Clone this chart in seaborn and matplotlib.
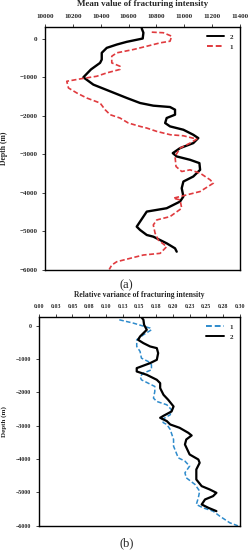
import numpy as np
import pandas as pd
import matplotlib
matplotlib.use("Agg")
import matplotlib.pyplot as plt
import seaborn as sns

# ==========================
# DATA
# ==========================

# panel (a): mean value of fracturing intensity
a2_depth = [260, 150, 0, -86, -156, -242, -371, -545, -631, -800, -1005, -1195,
            -1368, -1541, -1671, -1740, -1775, -1844, -1974, -2060, -2190, -2277,
            -2364, -2494, -2580, -2710, -2840, -2970, -3056, -3143, -3229, -3403,
            -3576, -3706, -3879, -4095, -4225, -4398, -4485, -4615, -4745, -4875,
            -4961, -5091, -5135, -5307, -5437, -5524]
a2_value = [10694, 10706, 10701, 10586, 10515, 10443, 10407, 10407, 10395, 10330, 10275, 10347,
            10467, 10587, 10682, 10777, 10897, 10933, 10933, 10873, 10862, 10897,
            10993, 11064, 11100, 11064, 10969, 10917, 10945, 11041, 11108, 11113,
            11064, 10993, 10981, 10993, 10969, 10873, 10730, 10706, 10682, 10658,
            10682, 10730, 10777, 10873, 10933, 10945]

a1_depth = [165, 150, 60, -70, -112, -200, -285, -371, -459, -631, -719, -800,
            -891, -978, -1047, -1108, -1281, -1411, -1541, -1671, -1844, -1974,
            -2060, -2190, -2277, -2320, -2407, -2494, -2520, -2606, -2710, -2840,
            -3056, -3316, -3446, -3403, -3489, -3662, -3749, -3965, -4052, -4138,
            -4182, -4398, -4615, -4701, -4831, -5047, -5221, -5394, -5567, -5610,
            -5697, -5784, -5870, -5983]
a1_value = [10766, 10849, 10909, 10897, 10826, 10730, 10634, 10515, 10479, 10479, 10538, 10538,
            10443, 10371, 10251, 10156, 10168, 10228, 10299, 10395, 10431, 10467,
            10538, 10598, 10682, 10730, 10802, 10900, 10993, 11089, 11041, 10969,
            10933, 10940, 10981, 11041, 11113, 11185, 11208, 11113, 11017, 10921,
            10969, 10981, 10897, 10802, 10777, 10790, 10813, 10873, 10826, 10706,
            10610, 10515, 10479, 10461]

a_xticks = [10000, 10200, 10400, 10600, 10800, 11000, 11200, 11400]

# panel (b): relative variance of fracturing intensity
b1_depth = [180, 80, -70, -120, -270, -420, -620, -770, -970, -1070, -1170, -1320,
            -1420, -1520, -1620, -1720, -1820, -1970, -2170, -2270, -2370, -2520,
            -2670, -2820, -2910, -2960, -3110, -3410, -3610, -3960, -4060, -4210,
            -4410, -4560, -4760, -4960, -5160, -5360, -5460, -5560, -5710, -5910, -6000]
b1_value = [0.120, 0.141, 0.166, 0.168, 0.156, 0.146, 0.146, 0.151, 0.153, 0.163, 0.168, 0.168,
            0.156, 0.151, 0.153, 0.163, 0.173, 0.173, 0.171, 0.176, 0.191, 0.198,
            0.196, 0.183, 0.186, 0.191, 0.196, 0.201, 0.201, 0.208, 0.218, 0.225,
            0.218, 0.220, 0.233, 0.240, 0.238, 0.235, 0.245, 0.260, 0.270, 0.285, 0.297]

b2_depth = [260, 180, 30, -120, -320, -420, -520, -620, -670, -820, -1020, -1120,
            -1270, -1370, -1470, -1620, -1720, -1870, -2070, -2220, -2420, -2570,
            -2700, -2760, -2860, -2960, -3060, -3210, -3290, -3410, -3560, -3860,
            -4010, -4110, -4310, -4610, -4810, -4910, -5010, -5110, -5210, -5360,
            -5460, -5560]
b2_value = [0.153, 0.156, 0.157, 0.161, 0.151, 0.148, 0.156, 0.166, 0.176, 0.178, 0.176, 0.166,
            0.146, 0.146, 0.161, 0.176, 0.181, 0.181, 0.186, 0.193, 0.201, 0.198,
            0.186, 0.181, 0.191, 0.196, 0.210, 0.223, 0.228, 0.220, 0.218, 0.225,
            0.238, 0.240, 0.235, 0.235, 0.243, 0.255, 0.265, 0.260, 0.248, 0.243,
            0.253, 0.265]

b_xticks = [0.00, 0.025, 0.05, 0.075, 0.10, 0.125, 0.15, 0.175, 0.20, 0.225, 0.25, 0.275, 0.30]
b_xticklabels = ["0.00", "0.03", "0.05", "0.08", "0.10", "0.13", "0.15",
                 "0.18", "0.20", "0.23", "0.25", "0.28", "0.30"]

depth_ticks = [0, -1000, -2000, -3000, -4000, -5000, -6000]

# ==========================
# STYLE
# ==========================

sns.set_style("ticks")
plt.rcParams["font.family"] = ["Liberation Serif", "DejaVu Serif"]
plt.rcParams["font.weight"] = "bold"

fig = plt.figure(figsize=(2.53, 5.5), dpi=100)
ax_a = fig.add_axes([0.178, 0.509, 0.771, 0.442])
ax_b = fig.add_axes([0.154, 0.044, 0.794, 0.380])


def make_df(pairs):
    frames = []
    for name, val, dep in pairs:
        frames.append(pd.DataFrame({"value": val, "depth": dep, "series": name}))
    return pd.concat(frames, ignore_index=True)


df_a = make_df([("2", a2_value, a2_depth), ("1", a1_value, a1_depth)])
df_b = make_df([("1", b1_value, b1_depth), ("2", b2_value, b2_depth)])

# ==========================
# PANEL (a)
# ==========================

sns.lineplot(
    data=df_a, x="value", y="depth", hue="series", style="series",
    palette={"2": "black", "1": "#e03a3e"},
    dashes={"2": "", "1": (3, 1.5)},
    sort=False, estimator=None, ax=ax_a,
)
for line in ax_a.get_lines():
    if line.get_color() == "black":
        line.set_linewidth(1.7)
    else:
        line.set_linewidth(1.2)

ax_a.set_xlim(10000, 11400)
ax_a.set_ylim(-6000, 300)
ax_a.set_xticks(a_xticks)
ax_a.set_yticks(depth_ticks)
ax_a.xaxis.tick_top()
ax_a.xaxis.set_label_position("top")
ax_a.set_xlabel("Mean value of fracturing intensity", fontsize=6.5, fontweight="bold", labelpad=6)
ax_a.set_ylabel("Depth (m)", fontsize=5.5, fontweight="bold")
ax_a.yaxis.set_label_coords(-0.19, 0.5)
ax_a.tick_params(labelsize=5, length=2, width=0.6)

# ==========================
# PANEL (b)
# ==========================

sns.lineplot(
    data=df_b, x="value", y="depth", hue="series", style="series",
    palette={"1": "#2e8bcc", "2": "black"},
    dashes={"1": (3, 1.5), "2": ""},
    sort=False, estimator=None, ax=ax_b,
)
for line in ax_b.get_lines():
    if line.get_color() == "black":
        line.set_linewidth(1.6)
    else:
        line.set_linewidth(1.1)

ax_b.set_xlim(0, 0.30)
ax_b.set_ylim(-6000, 270)
ax_b.set_xticks(b_xticks)
ax_b.set_xticklabels(b_xticklabels)
ax_b.set_yticks(depth_ticks)
ax_b.xaxis.tick_top()
ax_b.xaxis.set_label_position("top")
ax_b.set_xlabel("Relative variance of fracturing intensity", fontsize=5.5, fontweight="bold", labelpad=5)
ax_b.set_ylabel("Depth (m)", fontsize=5, fontweight="bold")
ax_b.yaxis.set_label_coords(-0.16, 0.5)
ax_b.tick_params(labelsize=4.2, length=2, width=0.6)

for ax in (ax_a, ax_b):
    for s in ax.spines.values():
        s.set_linewidth(1.0)
        s.set_color("black")
    leg = ax.legend(loc="upper right", frameon=False, fontsize=5,
                    handlelength=2.5, borderaxespad=0.6, labelspacing=0.6)
    for h in leg.get_lines():
        h.set_linewidth(1.4)

fig.text(0.5, 1 - 285 / 550, "(a)", ha="center", va="center", fontsize=9, fontweight="normal")
fig.text(0.5, 1 - 543 / 550, "(b)", ha="center", va="center", fontsize=9, fontweight="normal")

plt.savefig("out.png", dpi=100)
